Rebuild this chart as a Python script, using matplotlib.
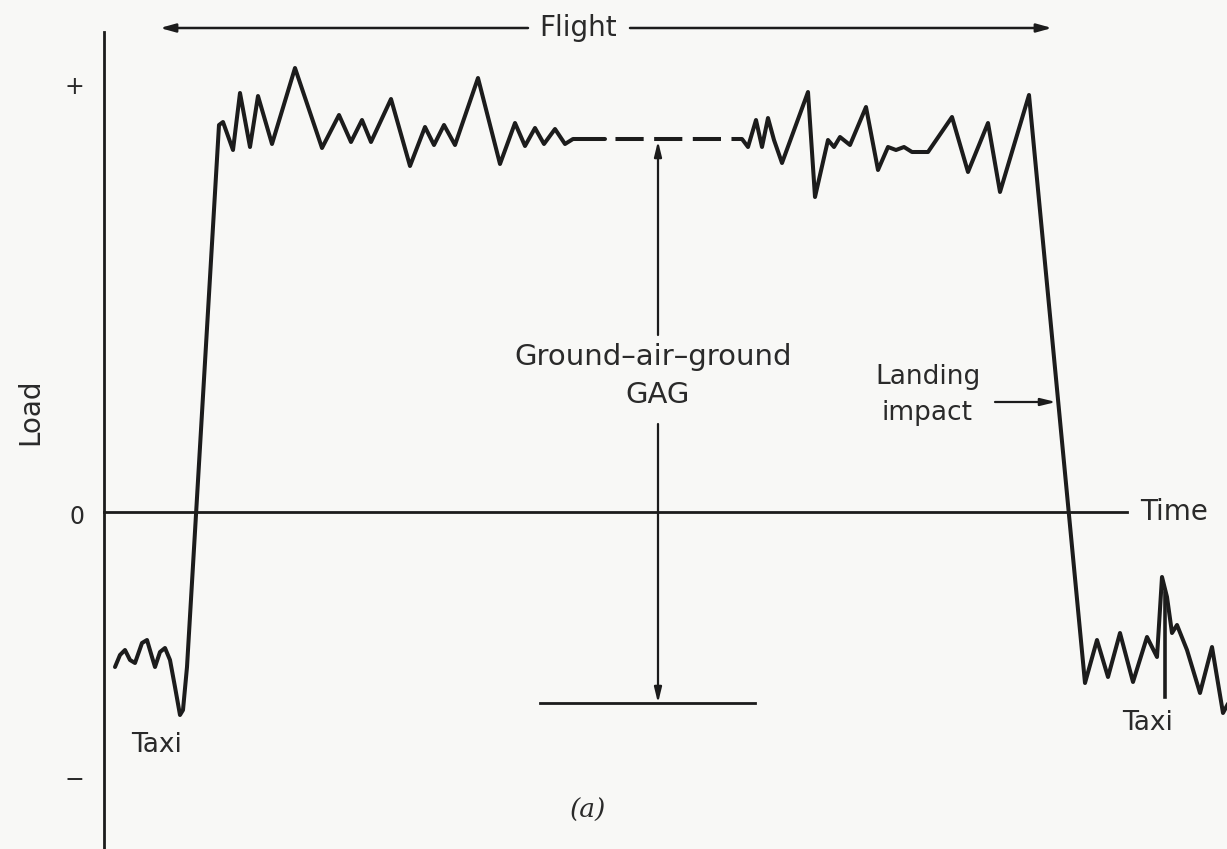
import numpy as np
import matplotlib.pyplot as plt

plt.rcParams['font.family'] = ['DejaVu Sans']

# 载荷曲线 (时间, 载荷) —— 地面滑行 + 起飞 + 飞行段
t_takeoff = [115, 120, 125, 130, 135, 142, 147, 152, 155, 160, 165, 170, 175, 180, 183, 187,
             219, 223, 233, 240, 250, 258, 272, 295, 322, 339, 351, 362, 371, 391, 410, 425,
             434, 444, 455, 478, 500, 515, 525, 535, 544, 555, 565, 573, 605]
load_takeoff = [-155, -143, -138, -148, -151, -131, -128, -145, -155, -140, -136, -148, -175, -203, -198, -155,
                387, 390, 362, 419, 365, 416, 368, 444, 364, 397, 370, 392, 370, 413, 346, 385,
                367, 387, 367, 434, 348, 389, 366, 384, 368, 383, 368, 373, 373]

# 飞行中段 (虚线)
t_cruise = [605, 742]
load_cruise = [373, 373]

# 飞行后段 + 着陆 + 滑行
t_landing = [742, 748, 756, 762, 768, 774, 782, 808, 815, 828, 834, 840, 850, 866, 878, 888,
             896, 904, 912, 928, 952, 968, 988, 1000, 1029, 1085, 1097, 1108, 1120, 1133, 1147,
             1157, 1162, 1167, 1172, 1177, 1187, 1200, 1212, 1223, 1230]
load_landing = [373, 365, 392, 365, 394, 372, 349, 420, 315, 372, 365, 375, 367, 405, 342, 365,
                362, 365, 360, 360, 395, 340, 389, 320, 417, -171, -128, -165, -121, -170, -125,
                -145, -65, -85, -121, -113, -138, -181, -135, -201, -188]

# 着陆冲击尖峰
t_spike = [1165, 1165]
load_spike = [-81, -185]

# GAG 循环的最小载荷线
t_gag_min = [540, 755]
load_gag_min = [-191, -191]

ink = '#1c1c1c'
fig = plt.figure(figsize=(12.27, 8.49), dpi=100, facecolor='#f8f8f6')
ax = fig.add_axes([0, 0, 1, 1])
ax.set_facecolor('#f8f8f6')
ax.set_xlim(0, 1227)
ax.set_ylim(-337, 512)

# 曲线
ax.plot(t_takeoff, load_takeoff, color=ink, lw=2.9, solid_joinstyle='round', solid_capstyle='round')
ax.plot(t_cruise, load_cruise, color=ink, lw=2.9, linestyle=(7, (7, 2.6)))
ax.plot(t_landing, load_landing, color=ink, lw=2.9, solid_joinstyle='round', solid_capstyle='round')
ax.plot(t_spike, load_spike, color=ink, lw=2.6)
ax.plot(t_gag_min, load_gag_min, color=ink, lw=2.0)

# 坐标轴
for s in ['top', 'right']:
    ax.spines[s].set_visible(False)
ax.spines['left'].set_position(('data', 104))
ax.spines['left'].set_bounds(-337, 480)
ax.spines['bottom'].set_position(('data', 0))
ax.spines['bottom'].set_bounds(104, 1127)
for s in ['left', 'bottom']:
    ax.spines[s].set_color(ink)
    ax.spines[s].set_linewidth(2.0)
ax.set_xticks([])
ax.set_yticks([428, -2, -265])
ax.set_yticklabels(['+', '0', '\u2212'])
ax.tick_params(axis='y', length=0, pad=14, labelsize=17, labelcolor='#2a2a2a')

ax.text(1140, 0, 'Time', ha='left', va='center', fontsize=20, color='#2a2a2a')
ax.text(30, 100, 'Load', ha='center', va='center', rotation=90, fontsize=20, color='#2a2a2a')

# 飞行箭头
arrow = dict(arrowstyle='-|>,head_length=0.9,head_width=0.25', color=ink, lw=1.8, shrinkA=0, shrinkB=0)
ax.annotate('', xy=(160, 484), xytext=(528, 484), arrowprops=arrow)
ax.annotate('', xy=(1052, 484), xytext=(630, 484), arrowprops=arrow)
ax.text(578, 484, 'Flight', ha='center', va='center', fontsize=20, color='#2a2a2a')

# GAG 箭头
arrow2 = dict(arrowstyle='-|>,head_length=0.9,head_width=0.22', color=ink, lw=1.6, shrinkA=0, shrinkB=0)
ax.annotate('', xy=(658, 371), xytext=(658, 177), arrowprops=arrow2)
ax.annotate('', xy=(658, -191), xytext=(658, 88), arrowprops=arrow2)
ax.text(653, 155, 'Ground\u2013air\u2013ground', ha='center', va='center', fontsize=21, color='#2a2a2a')
ax.text(658, 117, 'GAG', ha='center', va='center', fontsize=21, color='#2a2a2a')

# 着陆冲击
ax.annotate('', xy=(1056, 110), xytext=(995, 110), arrowprops=arrow2)
ax.text(928, 135, 'Landing', ha='center', va='center', fontsize=19, color='#2a2a2a')
ax.text(927, 99, 'impact', ha='center', va='center', fontsize=19, color='#2a2a2a')

ax.text(157, -233, 'Taxi', ha='center', va='center', fontsize=19, color='#2a2a2a')
ax.text(1148, -211, 'Taxi', ha='center', va='center', fontsize=19, color='#2a2a2a')
ax.text(588, -298, '(a)', ha='center', va='center', fontsize=19, color='#2a2a2a',
        family='DejaVu Serif', style='italic')

fig.savefig('out.png', dpi=100, facecolor=fig.get_facecolor())
